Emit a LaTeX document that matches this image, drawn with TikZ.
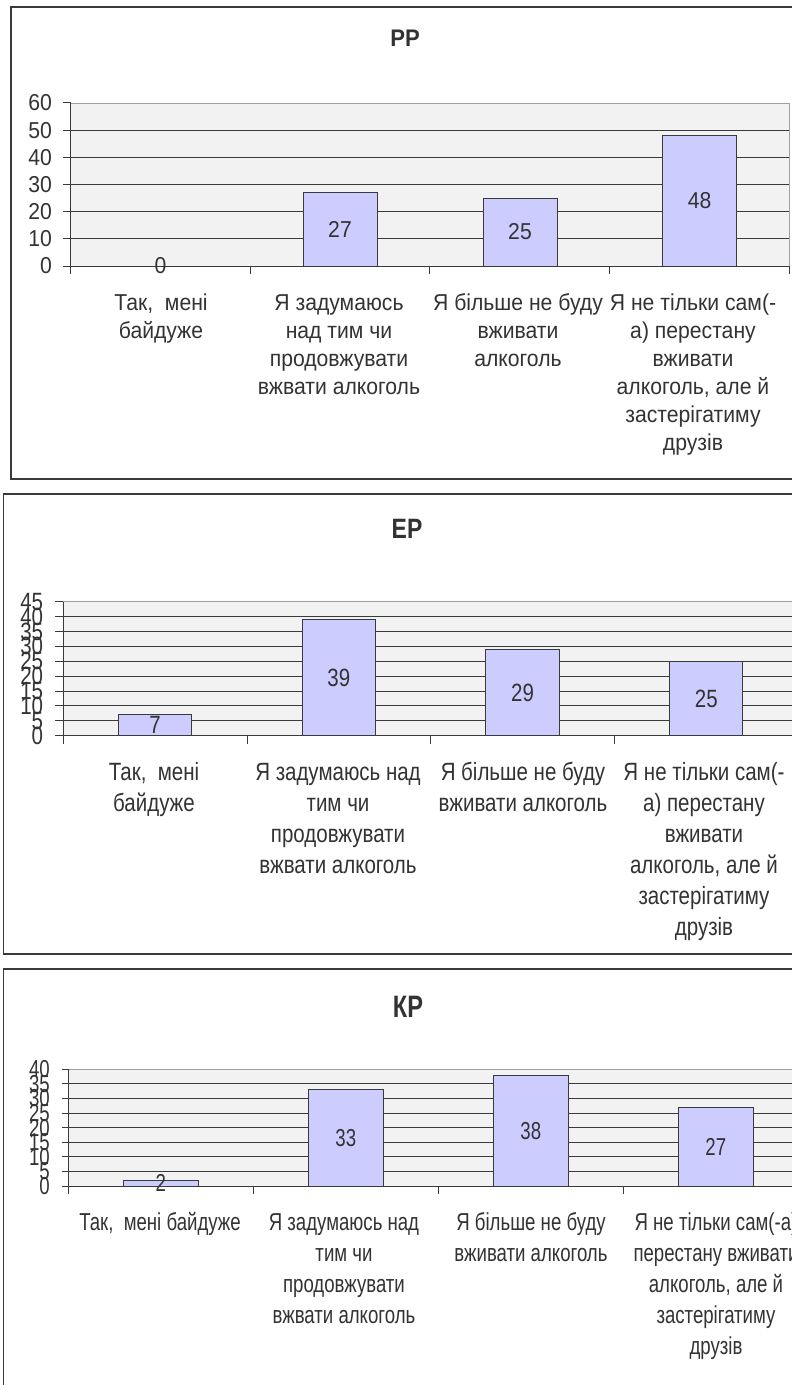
\documentclass[tikz,border=0pt]{standalone}
\usepackage{fontspec}
\setmainfont{Liberation Sans}
\newfontfamily\fA[FakeStretch=0.92]{Liberation Sans}
\newfontfamily\fB[FakeStretch=0.82]{Liberation Sans}
\newfontfamily\fC[FakeStretch=0.76]{Liberation Sans}
\definecolor{barfill}{HTML}{CCCCFF}
\definecolor{plotbg}{HTML}{F2F2F2}
\definecolor{ink}{HTML}{333333}
\definecolor{edge}{HTML}{3A3A3A}
\definecolor{topline}{HTML}{A0A0A0}
\begin{document}
\begin{tikzpicture}[x=1pt,y=-1pt,
  frame/.style={draw=edge,line width=1.6pt},
  gridln/.style={draw=edge,line width=1pt},
  axisln/.style={draw=edge,line width=1pt},
  topln/.style={draw=topline,line width=1pt},
  barbox/.style={draw=edge,fill=barfill,line width=1pt},
  lbl/.style={text=ink,inner sep=0pt},
  catlbl/.style={lbl,align=center,anchor=base},
  pA/.style={font=\fA\fontsize{23}{28}\selectfont},
  pB/.style={font=\fB\fontsize{25}{31}\selectfont},
  pC/.style={font=\fC\fontsize{24.5}{31}\selectfont},
  tA/.style={lbl,font=\fA\fontsize{24}{24}\selectfont\bfseries},
  tB/.style={lbl,font=\fB\fontsize{28}{28}\selectfont\bfseries},
  tC/.style={lbl,font=\fC\fontsize{31}{31}\selectfont\bfseries}
]
\useasboundingbox (0,0) rectangle (792,1385);
\clip (0,0) rectangle (792,1385);
\fill[white] (0,0) rectangle (792,1385);

% ---------------- Panel 1 ----------------
\draw[frame] (11,7) rectangle (830,479);
\fill[plotbg] (70.7,103) rectangle (789,266);
\draw[gridln] (70.7,238.83) -- (789,238.83) (70.7,211.66) -- (789,211.66)
  (70.7,184.49) -- (789,184.49) (70.7,157.32) -- (789,157.32) (70.7,130.15) -- (789,130.15);
\draw[topln] (70.7,103) -- (789,103) -- (789,266);
\draw[axisln] (70.7,103) -- (70.7,266) -- (789,266);
\foreach \v in {0,10,...,60} {
  \draw[axisln] (62.7,{266-2.717*\v}) -- (70.7,{266-2.717*\v});
  \node[lbl,pA,anchor=east] (pa-y\v) at (52,{266-2.717*\v}) {\v};
}
\foreach \k in {0,...,4} \draw[axisln] ({70.7+179.6*\k},266) -- ({70.7+179.6*\k},274);
\draw[barbox] (303,266) rectangle (377,192.6);
\draw[barbox] (483,266) rectangle (557,198.1);
\draw[barbox] (662.6,266) rectangle (736.6,135.6);
\node[lbl,pA] (pa-v1) at (160.5,266) {0};
\node[lbl,pA] (pa-v2) at (340,229.3) {27};
\node[lbl,pA] (pa-v3) at (520,232) {25};
\node[lbl,pA] (pa-v4) at (699.6,200.8) {48};
\node[tA] (pa-t) at (405,38.5) {РР};
\node[catlbl,pA] (pa-c1) at (161,338) {Так,\ \ мені\\байдуже};
\node[catlbl,pA] (pa-c2) at (339,394) {Я задумаюсь\\над тим чи\\продовжувати\\вжвати алкоголь};
\node[catlbl,pA] (pa-c3) at (518,366) {Я більше не буду\\вживати\\алкоголь};
\node[catlbl,pA] (pa-c4) at (693,450) {Я не тільки сам(-\\а) перестану\\вживати\\алкоголь, але й\\застерігатиму\\друзів};

% ---------------- Panel 2 ----------------
\draw[frame] (3.5,494) rectangle (830,954);
\fill[plotbg] (63.3,601.7) rectangle (830,735.7);
\foreach \v in {5,10,...,40} \draw[gridln] (63.3,{735.7-2.978*\v}) -- (830,{735.7-2.978*\v});
\draw[topln] (63.3,601.7) -- (830,601.7);
\draw[axisln] (63.3,601.7) -- (63.3,735.7) -- (830,735.7);
\foreach \v in {0,5,...,45} {
  \draw[axisln] (55,{735.7-2.978*\v}) -- (63.3,{735.7-2.978*\v});
  \node[lbl,pB,anchor=east] (pb-y\v) at (43.3,{735.7-2.978*\v}) {\v};
}
\foreach \k in {0,...,4} \draw[axisln] ({63.3+183.7*\k},735.7) -- ({63.3+183.7*\k},743.7);
\node[tB] (pb-t) at (407,529) {ЕР};
\node[catlbl,pB] (pb-c1) at (154,811) {Так,\ \ мені\\байдуже};
\node[catlbl,pB] (pb-c2) at (338,873) {Я задумаюсь над\\тим чи\\продовжувати\\вжвати алкоголь};
\node[catlbl,pB] (pb-c3) at (523,811) {Я більше не буду\\вживати алкоголь};
\node[catlbl,pB] (pb-c4) at (704,935) {Я не тільки сам(-\\а) перестану\\вживати\\алкоголь, але й\\застерігатиму\\друзів};
\foreach \k/\val in {1/7,2/39,3/29,4/25} {
  \pgfmathsetmacro\cx{63.3+183.7*(\k-0.5)}
  \draw[barbox] ({\cx-36.7},735.7) rectangle ({\cx+36.7},{735.7-2.978*\val});
  \node[lbl,pB] (pb-v\k) at (\cx,{735.7-2.978*\val/2}) {\val};
}

% ---------------- Panel 3 ----------------
\draw[frame] (3.5,969) rectangle (830,1420);
\fill[plotbg] (68.3,1069.3) rectangle (830,1186);
\foreach \v in {5,10,...,35} \draw[gridln] (68.3,{1186-2.916*\v}) -- (830,{1186-2.916*\v});
\draw[topln] (68.3,1069.3) -- (830,1069.3);
\draw[axisln] (68.3,1069.3) -- (68.3,1186) -- (830,1186);
\foreach \v in {0,5,...,40} {
  \draw[axisln] (61.7,{1186-2.916*\v}) -- (68.3,{1186-2.916*\v});
  \node[lbl,pC,anchor=east] (pc-y\v) at (50,{1186-2.916*\v}) {\v};
}
\foreach \k in {0,...,4} \draw[axisln] ({68.3+185*\k},1186) -- ({68.3+185*\k},1194);
\node[tC] (pc-t) at (408,1007) {КР};
\node[catlbl,pC] (pc-c1) at (160,1230) {Так,\ \ мені байдуже};
\node[catlbl,pC] (pc-c2) at (344,1323) {Я задумаюсь над\\тим чи\\продовжувати\\вжвати алкоголь};
\node[catlbl,pC] (pc-c3) at (531,1261) {Я більше не буду\\вживати алкоголь};
\node[catlbl,pC] (pc-c4) at (716,1354) {Я не тільки сам(-а)\\перестану вживати\\алкоголь, але й\\застерігатиму\\друзів};
\foreach \k/\val in {1/2,2/33,3/38,4/27} {
  \pgfmathsetmacro\cx{68.3+185*(\k-0.5)}
  \draw[barbox] ({\cx-37.5},1186) rectangle ({\cx+37.5},{1186-2.916*\val});
  \node[lbl,pC] (pc-v\k) at (\cx,{1186-2.916*\val/2}) {\val};
}
\end{tikzpicture}
\end{document}
